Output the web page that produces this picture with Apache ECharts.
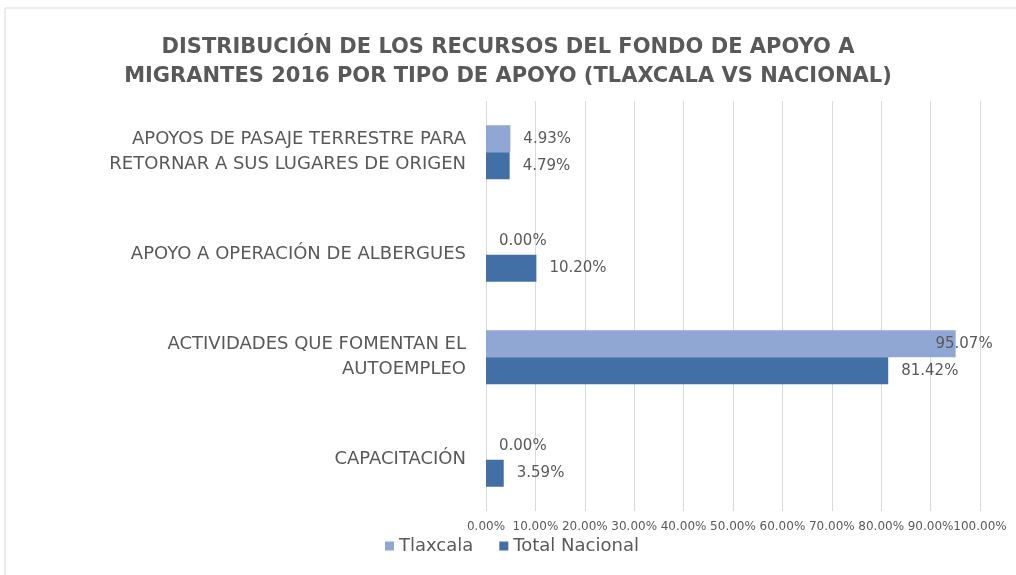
<!DOCTYPE html>
<html>
<head>
<meta charset="utf-8">
<script src="https://cdn.jsdelivr.net/npm/echarts@6/dist/echarts.min.js"></script>
<style>
  html, body { margin: 0; padding: 0; background: #fff; }
  #chart { width: 1016px; height: 575px; }
</style>
</head>
<body>
<div id="chart"></div>
<script>
  // categorias de arriba hacia abajo
  var categorias = [
    'APOYOS DE PASAJE TERRESTRE PARA\nRETORNAR A SUS LUGARES DE ORIGEN',
    'APOYO A OPERACIÓN DE ALBERGUES',
    'ACTIVIDADES QUE FOMENTAN EL\nAUTOEMPLEO',
    'CAPACITACIÓN'
  ]
  var tlaxcala = [4.93, 0.00, 95.07, 0.00]
  var totalNacional = [4.79, 10.20, 81.42, 3.59]
  var series = ['Tlaxcala', 'Total Nacional']

  var gris = '#595959'
  var chart = echarts.init(document.getElementById('chart'))

  function etiqueta(v) {
    // la barra mas larga no cabe con la etiqueta afuera
    if (v > 90) {
      return { value: v, label: { position: 'insideRight', offset: [50, 0] } }
    }
    return v
  }

  var etiquetaBarra = {
    show: true,
    position: 'right',
    distance: 13,
    color: gris,
    fontFamily: 'DejaVu Sans',
    fontSize: 15,
    formatter: function (p) { return p.value.toFixed(2) + '%' }
  }

  chart.setOption({
    animation: false,
    title: {
      text: 'DISTRIBUCIÓN DE LOS RECURSOS DEL FONDO DE APOYO A\nMIGRANTES 2016 POR TIPO DE APOYO (TLAXCALA VS NACIONAL)',
      left: 'center',
      top: 28,
      textStyle: {
        fontFamily: 'DejaVu Sans',
        fontWeight: 'bold',
        fontSize: 21,
        lineHeight: 29,
        color: gris
      }
    },
    graphic: [{
      type: 'rect',
      shape: { x: 5, y: 8, width: 1020, height: 580 },
      style: { fill: 'none', stroke: '#d9d9d9', lineWidth: 1 },
      silent: true
    }],
    legend: {
      data: series,
      left: 380,
      top: 532,
      itemWidth: 9,
      itemHeight: 9,
      itemGap: 26,
      icon: 'rect',
      textStyle: { fontFamily: 'DejaVu Sans', fontSize: 18, color: gris }
    },
    grid: {
      left: 486,
      right: 36,
      top: 101,
      bottom: 64
    },
    xAxis: {
      type: 'value',
      min: 0,
      max: 100,
      interval: 10,
      axisLine: { show: false },
      axisTick: { show: false },
      splitLine: { lineStyle: { color: '#d9d9d9' } },
      axisLabel: {
        color: gris,
        fontFamily: 'DejaVu Sans',
        fontSize: 12,
        margin: 10,
        hideOverlap: false,
        formatter: function (v) { return v.toFixed(2) + '%' }
      }
    },
    yAxis: {
      type: 'category',
      inverse: true,
      data: categorias,
      axisLine: { show: false },
      axisTick: { show: false },
      axisLabel: {
        color: gris,
        fontFamily: 'DejaVu Sans',
        fontSize: 18,
        lineHeight: 25,
        margin: 20,
        align: 'right'
      }
    },
    series: [{
      name: series[0],
      type: 'bar',
      data: tlaxcala.map(etiqueta),
      barWidth: 27,
      barGap: '0%',
      itemStyle: { color: '#8fa7d2' },
      label: etiquetaBarra
    }, {
      name: series[1],
      type: 'bar',
      data: totalNacional,
      barWidth: 27,
      barGap: '0%',
      itemStyle: { color: '#426fa6' },
      label: etiquetaBarra
    }]
  })
</script>
</body>
</html>
